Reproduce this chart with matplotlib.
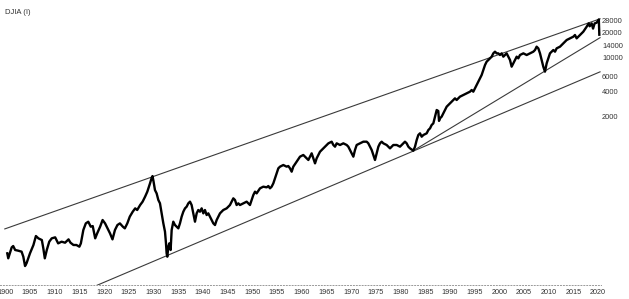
import matplotlib
matplotlib.use("Agg")
import matplotlib.pyplot as plt
from matplotlib.ticker import FixedLocator, NullLocator

# DJIA Werte (Jahr, Indexstand)
years = [
    1900.4, 1900.6, 1901.3, 1901.6, 1902.0, 1902.6, 1903.3, 1903.65, 1904.0, 1904.3,
    1905.0, 1905.7, 1906.2, 1906.7, 1907.4, 1907.7, 1908.0, 1908.4, 1908.9, 1909.4,
    1910.1, 1910.7, 1911.4, 1912.1, 1912.8, 1913.2, 1913.8, 1914.4, 1915.0, 1915.3,
    1915.8, 1916.3, 1916.8, 1917.3, 1917.7, 1918.2, 1918.6, 1919.2, 1919.7, 1920.2,
    1920.7, 1921.2, 1921.7, 1922.2, 1922.7, 1923.2, 1923.8, 1924.2, 1924.7, 1925.2,
    1925.8, 1926.3, 1926.7, 1927.3, 1927.8, 1928.3, 1928.75, 1929.3, 1929.6, 1929.8,
    1930.0, 1930.3, 1930.64, 1930.98, 1931.31, 1931.65, 1931.99, 1932.33, 1932.53, 1932.66,
    1932.8, 1933.0, 1933.2, 1933.47, 1933.68, 1934.01, 1934.35, 1934.69, 1935.03, 1935.36,
    1935.7, 1936.04, 1936.38, 1936.71, 1937.05, 1937.39, 1937.72, 1938.06, 1938.4, 1938.74,
    1939.07, 1939.41, 1939.75, 1940.09, 1940.42, 1940.76, 1941.1, 1941.44, 1941.77, 1942.11,
    1942.45, 1942.79, 1943.12, 1943.46, 1943.8, 1944.13, 1944.81, 1945.48, 1945.82, 1946.16,
    1946.5, 1946.83, 1947.17, 1947.51, 1948.18, 1948.86, 1949.2, 1949.53, 1949.87, 1950.21,
    1950.55, 1950.88, 1951.56, 1952.23, 1952.91, 1953.25, 1953.58, 1953.92, 1954.26, 1954.59,
    1954.93, 1955.27, 1955.61, 1956.28, 1956.96, 1957.29, 1957.63, 1957.97, 1958.3, 1958.98,
    1959.66, 1960.33, 1961.01, 1961.35, 1961.68, 1962.02, 1962.36, 1962.7, 1963.03, 1963.37,
    1963.71, 1964.05, 1964.72, 1965.4, 1966.07, 1966.41, 1966.75, 1967.08, 1967.76, 1968.43,
    1969.11, 1969.44, 1969.78, 1970.46, 1970.79, 1971.13, 1971.81, 1972.48, 1973.16, 1973.49,
    1973.83, 1974.17, 1974.5, 1974.84, 1975.18, 1975.52, 1975.85, 1976.19, 1976.53, 1977.2,
    1977.88, 1978.22, 1978.55, 1979.23, 1979.9, 1980.58, 1980.91, 1981.25, 1981.59, 1981.93,
    1982.6, 1982.94, 1983.28, 1983.61, 1983.95, 1984.29, 1984.63, 1985.3, 1985.64, 1985.98,
    1986.31, 1986.65, 1986.99, 1987.33, 1987.65, 1987.8, 1988.0, 1988.33, 1988.67, 1989.01,
    1989.35, 1989.68, 1990.02, 1990.36, 1990.7, 1991.03, 1991.37, 1991.71, 1992.04, 1992.72,
    1993.39, 1994.07, 1994.41, 1994.74, 1995.08, 1995.42, 1995.76, 1996.09, 1996.43, 1996.77,
    1997.11, 1997.44, 1997.78, 1998.12, 1998.46, 1998.79, 1999.13, 1999.47, 1999.8, 2000.14,
    2000.48, 2000.82, 2001.15, 2001.49, 2001.83, 2002.17, 2002.5, 2002.84, 2003.18, 2003.52,
    2003.85, 2004.19, 2004.87, 2005.54, 2006.21, 2006.89, 2007.23, 2007.56, 2007.9, 2008.24,
    2008.58, 2008.91, 2009.25, 2009.59, 2009.93, 2010.26, 2010.6, 2010.94, 2011.28, 2011.61,
    2012.29, 2012.96, 2013.64, 2014.31, 2014.99, 2015.32, 2015.66, 2016.0, 2016.34, 2017.01,
    2017.69, 2018.1, 2018.3, 2018.7, 2018.98, 2019.3, 2019.7, 2020.05, 2020.15, 2020.25,
]
djia = [
    44.8, 39.0, 52.8, 54.8, 49.1, 48.2, 46.9, 40.8, 31.5, 34.0,
    44.8, 56.4, 72.3, 67.8, 64.7, 51.4, 39.0, 49.1, 61.8, 67.8,
    69.7, 59.0, 61.8, 60.1, 65.9, 60.1, 56.4, 56.4, 53.8, 59.0,
    85.4, 102.6, 107.4, 93.6, 95.3, 67.8, 77.8, 93.6, 112.6, 102.6,
    89.4, 77.8, 65.9, 85.4, 98.0, 102.6, 93.6, 89.4, 102.6, 123.5,
    141.8, 155.5, 148.5, 170.5, 187.1, 214.8, 246.6, 310.7, 356.7, 380,
    330, 258, 235, 196, 179, 135, 103, 81.5, 59, 44.8,
    40.8, 53.8, 59.0, 49.1, 85.4, 107.5, 98.0, 93.6, 89.4, 102.7,
    123.5, 141.8, 155.5, 162.8, 178.6, 187.1, 170.5, 135.4, 107.5, 135.4,
    148.5, 141.8, 155.5, 135.4, 148.5, 129.3, 135.4, 123.5, 112.6, 102.7,
    98.0, 112.6, 123.5, 135.4, 141.8, 148.5, 155.5, 170.5, 187.1, 205.1,
    195.9, 170.5, 178.6, 170.5, 178.6, 187.1, 178.6, 170.5, 195.9, 224.9,
    246.7, 235.5, 270.5, 283.3, 278.1, 288.6, 270.5, 283.3, 310.7, 356.7,
    409.8, 470.6, 492.8, 516.0, 492.8, 502, 470.6, 429, 492.8, 565.7,
    650, 681, 621, 593, 650, 713, 621, 540, 621, 681,
    746, 782, 857, 940, 984, 898, 857, 940, 898, 940,
    898, 857, 782, 650, 782, 898, 940, 984, 984, 940,
    857, 782, 681, 593, 713, 857, 940, 984, 940, 898,
    818, 857, 898, 898, 857, 940, 984, 940, 857, 818,
    767, 857, 1031, 1184, 1240, 1130, 1184, 1240, 1359, 1423,
    1561, 1635, 1966, 2364, 2300, 1750, 1877, 1966, 2156, 2364,
    2593, 2716, 2843, 2978, 3119, 3265, 3119, 3265, 3420, 3581,
    3750, 3927, 4113, 3927, 4307, 4722, 5179, 5679, 6229, 7152,
    8213, 9005, 9432, 9878, 10344, 11344, 11879, 11344, 11344, 10833,
    11344, 10344, 10833, 11344, 10344, 9432, 7844, 8600, 9432, 10344,
    9878, 10833, 11344, 10833, 11344, 11879, 12437, 13643, 13027, 11344,
    9432, 7844, 6830, 8600, 9878, 11344, 11879, 12437, 11879, 13027,
    13643, 14962, 16406, 17179, 17994, 18843, 17179, 17994, 18843, 20663,
    23731, 26000, 24000, 26000, 22500, 26000, 26500, 28500, 29000, 19000,
]

upper_years = [1899.9, 2020.4]
upper_vals = [88, 29500]
lower_years = [1918.2, 2020.4]
lower_vals = [18.1, 6800]
steep_years = [1982.6, 2020.4]
steep_vals = [767, 17500]

x_ticks = list(range(1900, 2021, 5))
y_ticks = [2000, 4000, 6000, 10000, 14000, 20000, 28000]

plt.rcParams["font.family"] = ["Liberation Sans", "DejaVu Sans"]
txt_color = "#333333"

W, H = 629, 299
fig = plt.figure(figsize=(W / 100, H / 100), dpi=100)
# Achse in Pixeln: links 0, rechts 601, unten 284.5, oben 0
ax = fig.add_axes([0, (H - 284.5) / H, 601 / W, 284.5 / H])

ax.plot(upper_years, upper_vals, color="#3a3a3a", lw=0.8)
ax.plot(lower_years, lower_vals, color="#3a3a3a", lw=0.8)
ax.plot(steep_years, steep_vals, color="#3a3a3a", lw=0.8)
ax.plot(years, djia, color="black", lw=1.7, solid_joinstyle="round")

ax.set_yscale("log")
ax.set_xlim(1898.93, 2020.59)
ax.set_ylim(18.9, 49650)

ax.xaxis.set_major_locator(FixedLocator(x_ticks))
ax.set_xticklabels([str(t) for t in x_ticks])
ax.yaxis.tick_right()
ax.yaxis.set_major_locator(FixedLocator(y_ticks))
ax.yaxis.set_minor_locator(NullLocator())
ax.set_yticklabels([str(t) for t in y_ticks])
ax.tick_params(axis="x", length=0, pad=3.2, labelsize=5.2, colors=txt_color)
ax.tick_params(axis="y", length=0, pad=0.8, labelsize=5.4, colors=txt_color)

for s in ["top", "left", "right"]:
    ax.spines[s].set_visible(False)
ax.spines["bottom"].set_linestyle((0, (1, 2)))
ax.spines["bottom"].set_color("#999999")
ax.spines["bottom"].set_linewidth(0.7)

fig.text(5 / W, 1 - 12.7 / H, "DJIA (I)", fontsize=5.5, color=txt_color, va="center", ha="left")

fig.savefig("out.png", dpi=100)
